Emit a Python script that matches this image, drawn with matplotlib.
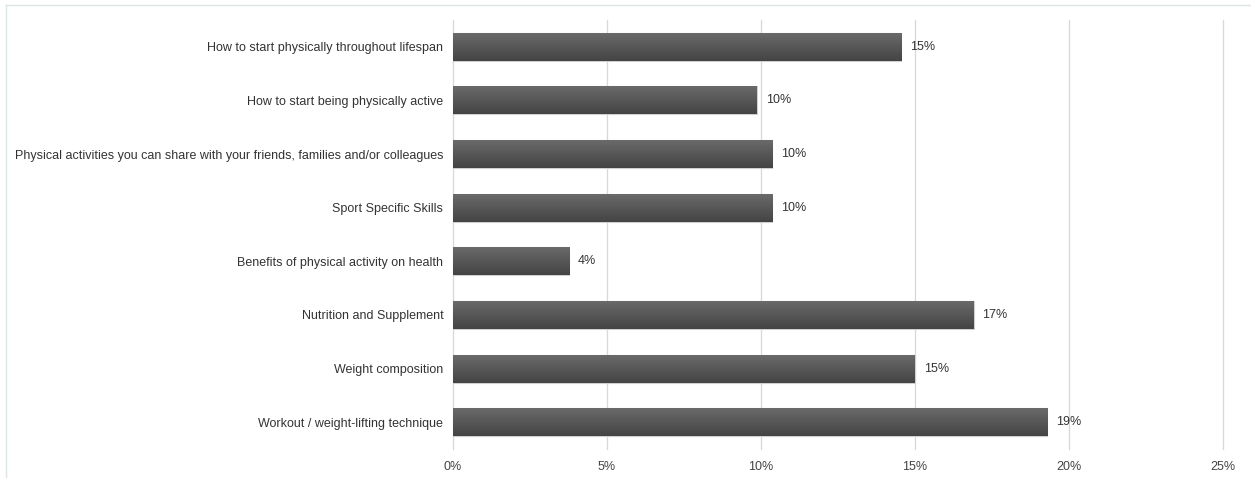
import numpy as np
import matplotlib
matplotlib.use("Agg")
import matplotlib.pyplot as plt
from matplotlib.lines import Line2D
from matplotlib.colors import LinearSegmentedColormap

plt.rcParams['font.family'] = ['Liberation Sans', 'DejaVu Sans']

categories = [
    "How to start physically throughout lifespan",
    "How to start being physically active",
    "Physical activities you can share with your friends, families and/or colleagues",
    "Sport Specific Skills",
    "Benefits of physical activity on health",
    "Nutrition and Supplement",
    "Weight composition",
    "Workout / weight-lifting technique",
]
shares = [14.55, 9.87, 10.36, 10.36, 3.77, 16.9, 15.0, 19.3]
xticks = [0, 5, 10, 15, 20, 25]
xtick_labels = ["0%", "5%", "10%", "15%", "20%", "25%"]

fig = plt.figure(figsize=(12.51, 4.78), dpi=100)
ax = fig.add_axes([453 / 1251, 1 - 449 / 478, 770 / 1251, 429 / 478])

pos = np.arange(len(categories))
bars = ax.barh(pos, shares, height=0.52, color="#555555",
               edgecolor="#d0d0d0", linewidth=0.8, zorder=3)

# vertical gradient inside each bar
grad = LinearSegmentedColormap.from_list("g", ["#444444", "#6a6a6a"])
for b in bars:
    x0, y0 = b.get_x(), b.get_y()
    w, h = b.get_width(), b.get_height()
    im = ax.imshow(np.linspace(0, 1, 64).reshape(-1, 1), cmap=grad,
                   extent=[x0, x0 + w, y0 + h, y0], aspect="auto",
                   origin="lower", zorder=3.5, interpolation="bilinear")
    im.set_clip_path(b)

for y, v in zip(pos, shares):
    ax.text(v + 0.28, y, f"{v:.0f}%", va="center", ha="left",
            fontsize=9, color="#333333", zorder=4)

ax.set_xlim(0, 25)
ax.set_ylim(len(categories) - 0.5, -0.5)
ax.set_xticks(xticks)
ax.set_xticklabels(xtick_labels, fontsize=9, color="#444444")
ax.set_yticks(pos)
ax.set_yticklabels(categories, fontsize=9, color="#333333")
ax.tick_params(axis="both", length=0)
ax.tick_params(axis="y", pad=7)
ax.tick_params(axis="x", pad=9)
ax.grid(axis="x", color="#cfdcdc", linewidth=0.9, zorder=0)
for gl in ax.get_xgridlines():
    gl.set_clip_on(False)
for s in ax.spines.values():
    s.set_visible(False)

# light frame along the top and left edges
fig.add_artist(Line2D([6 / 1251, 1], [1 - 5 / 478, 1 - 5 / 478],
                      transform=fig.transFigure, color="#dde5e5", linewidth=1))
fig.add_artist(Line2D([6 / 1251, 6 / 1251], [0, 1 - 5 / 478],
                      transform=fig.transFigure, color="#dde5e5", linewidth=1))

fig.savefig("out.png", dpi=100)
